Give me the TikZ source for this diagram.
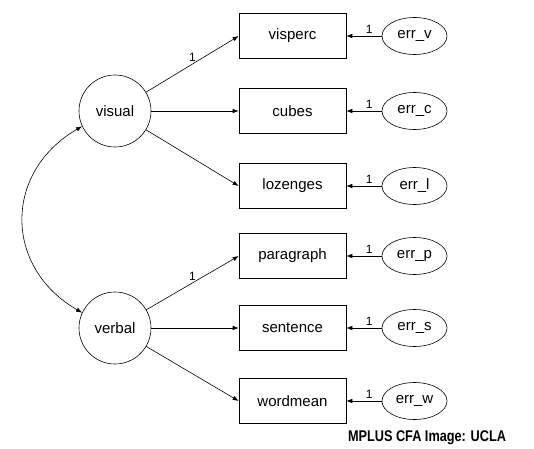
\documentclass[tikz,border=0pt]{standalone}
\usepackage{fontspec}
\setmainfont{Liberation Sans}
\usetikzlibrary{arrows.meta, positioning, shapes.geometric}

\begin{document}
\begin{tikzpicture}[
          x=1pt, y=1pt,
          latent/.style={circle, draw, minimum size=72pt, inner sep=0pt},
          manifest/.style={rectangle, draw, minimum width=107pt, minimum height=45pt},
          errterm/.style={ellipse, draw, minimum width=65pt, minimum height=37pt, inner sep=0pt},
          loading/.style={font=\fontsize{12}{13}\selectfont, inner sep=2pt},
          every node/.style={font=\fontsize{15}{17}\selectfont},
          line width=0.6pt,
          >={Latex[length=6pt, width=4.5pt]}
        ]
        \useasboundingbox (0,0) rectangle (534,448);
        % factors
        \node [latent] (visual) at (115,337) {visual};
        \node [latent] (verbal) at (115,120) {verbal};
        % indicators
        \node [manifest] (visperc) at (292.5,412) {visperc};
        \node [manifest] (cubes) at (292.5,337) {cubes};
        \node [manifest] (lozenges) at (292.5,262) {lozenges};
        \node [manifest] (paragraph) at (292.5,192) {paragraph};
        \node [manifest] (sentence) at (292.5,120) {sentence};
        \node [manifest] (wordmean) at (292.5,47) {wordmean};
        % residuals
        \node [errterm] (errv) at (414.5,412) {err\_v};
        \node [errterm] (errc) at (414.5,337) {err\_c};
        \node [errterm] (errl) at (414.5,262) {err\_l};
        \node [errterm] (errp) at (414.5,192) {err\_p};
        \node [errterm] (errs) at (414.5,120) {err\_s};
        \node [errterm] (errw) at (414.5,47) {err\_w};

        \draw [->] (visual) -- node [loading, above] {1} (visperc.west);
        \draw [->] (visual) -- (cubes.west);
        \draw [->] (visual) -- (lozenges.west);
        \draw [->] (verbal) -- node [loading, above] {1} (paragraph.west);
        \draw [->] (verbal) -- (sentence.west);
        \draw [->] (verbal) -- (wordmean.west);

        \draw [->] (errv) -- node [loading, above, pos=0.35] {1} (visperc);
        \draw [->] (errc) -- node [loading, above, pos=0.35] {1} (cubes);
        \draw [->] (errl) -- node [loading, above, pos=0.35] {1} (lozenges);
        \draw [->] (errp) -- node [loading, above, pos=0.35] {1} (paragraph);
        \draw [->] (errs) -- node [loading, above, pos=0.35] {1} (sentence);
        \draw [->] (errw) -- node [loading, above, pos=0.35] {1} (wordmean);

        % covariance
        \draw [<->] (visual.205) to [out=210, in=150, looseness=1.25] (verbal.155);

        \node [font=\fontsize{15.5}{17}\selectfont\bfseries] (credit) at (427,10) {\scalebox{0.82}[1]{MPLUS CFA Image: UCLA}};
        \end{tikzpicture}
\end{document}
